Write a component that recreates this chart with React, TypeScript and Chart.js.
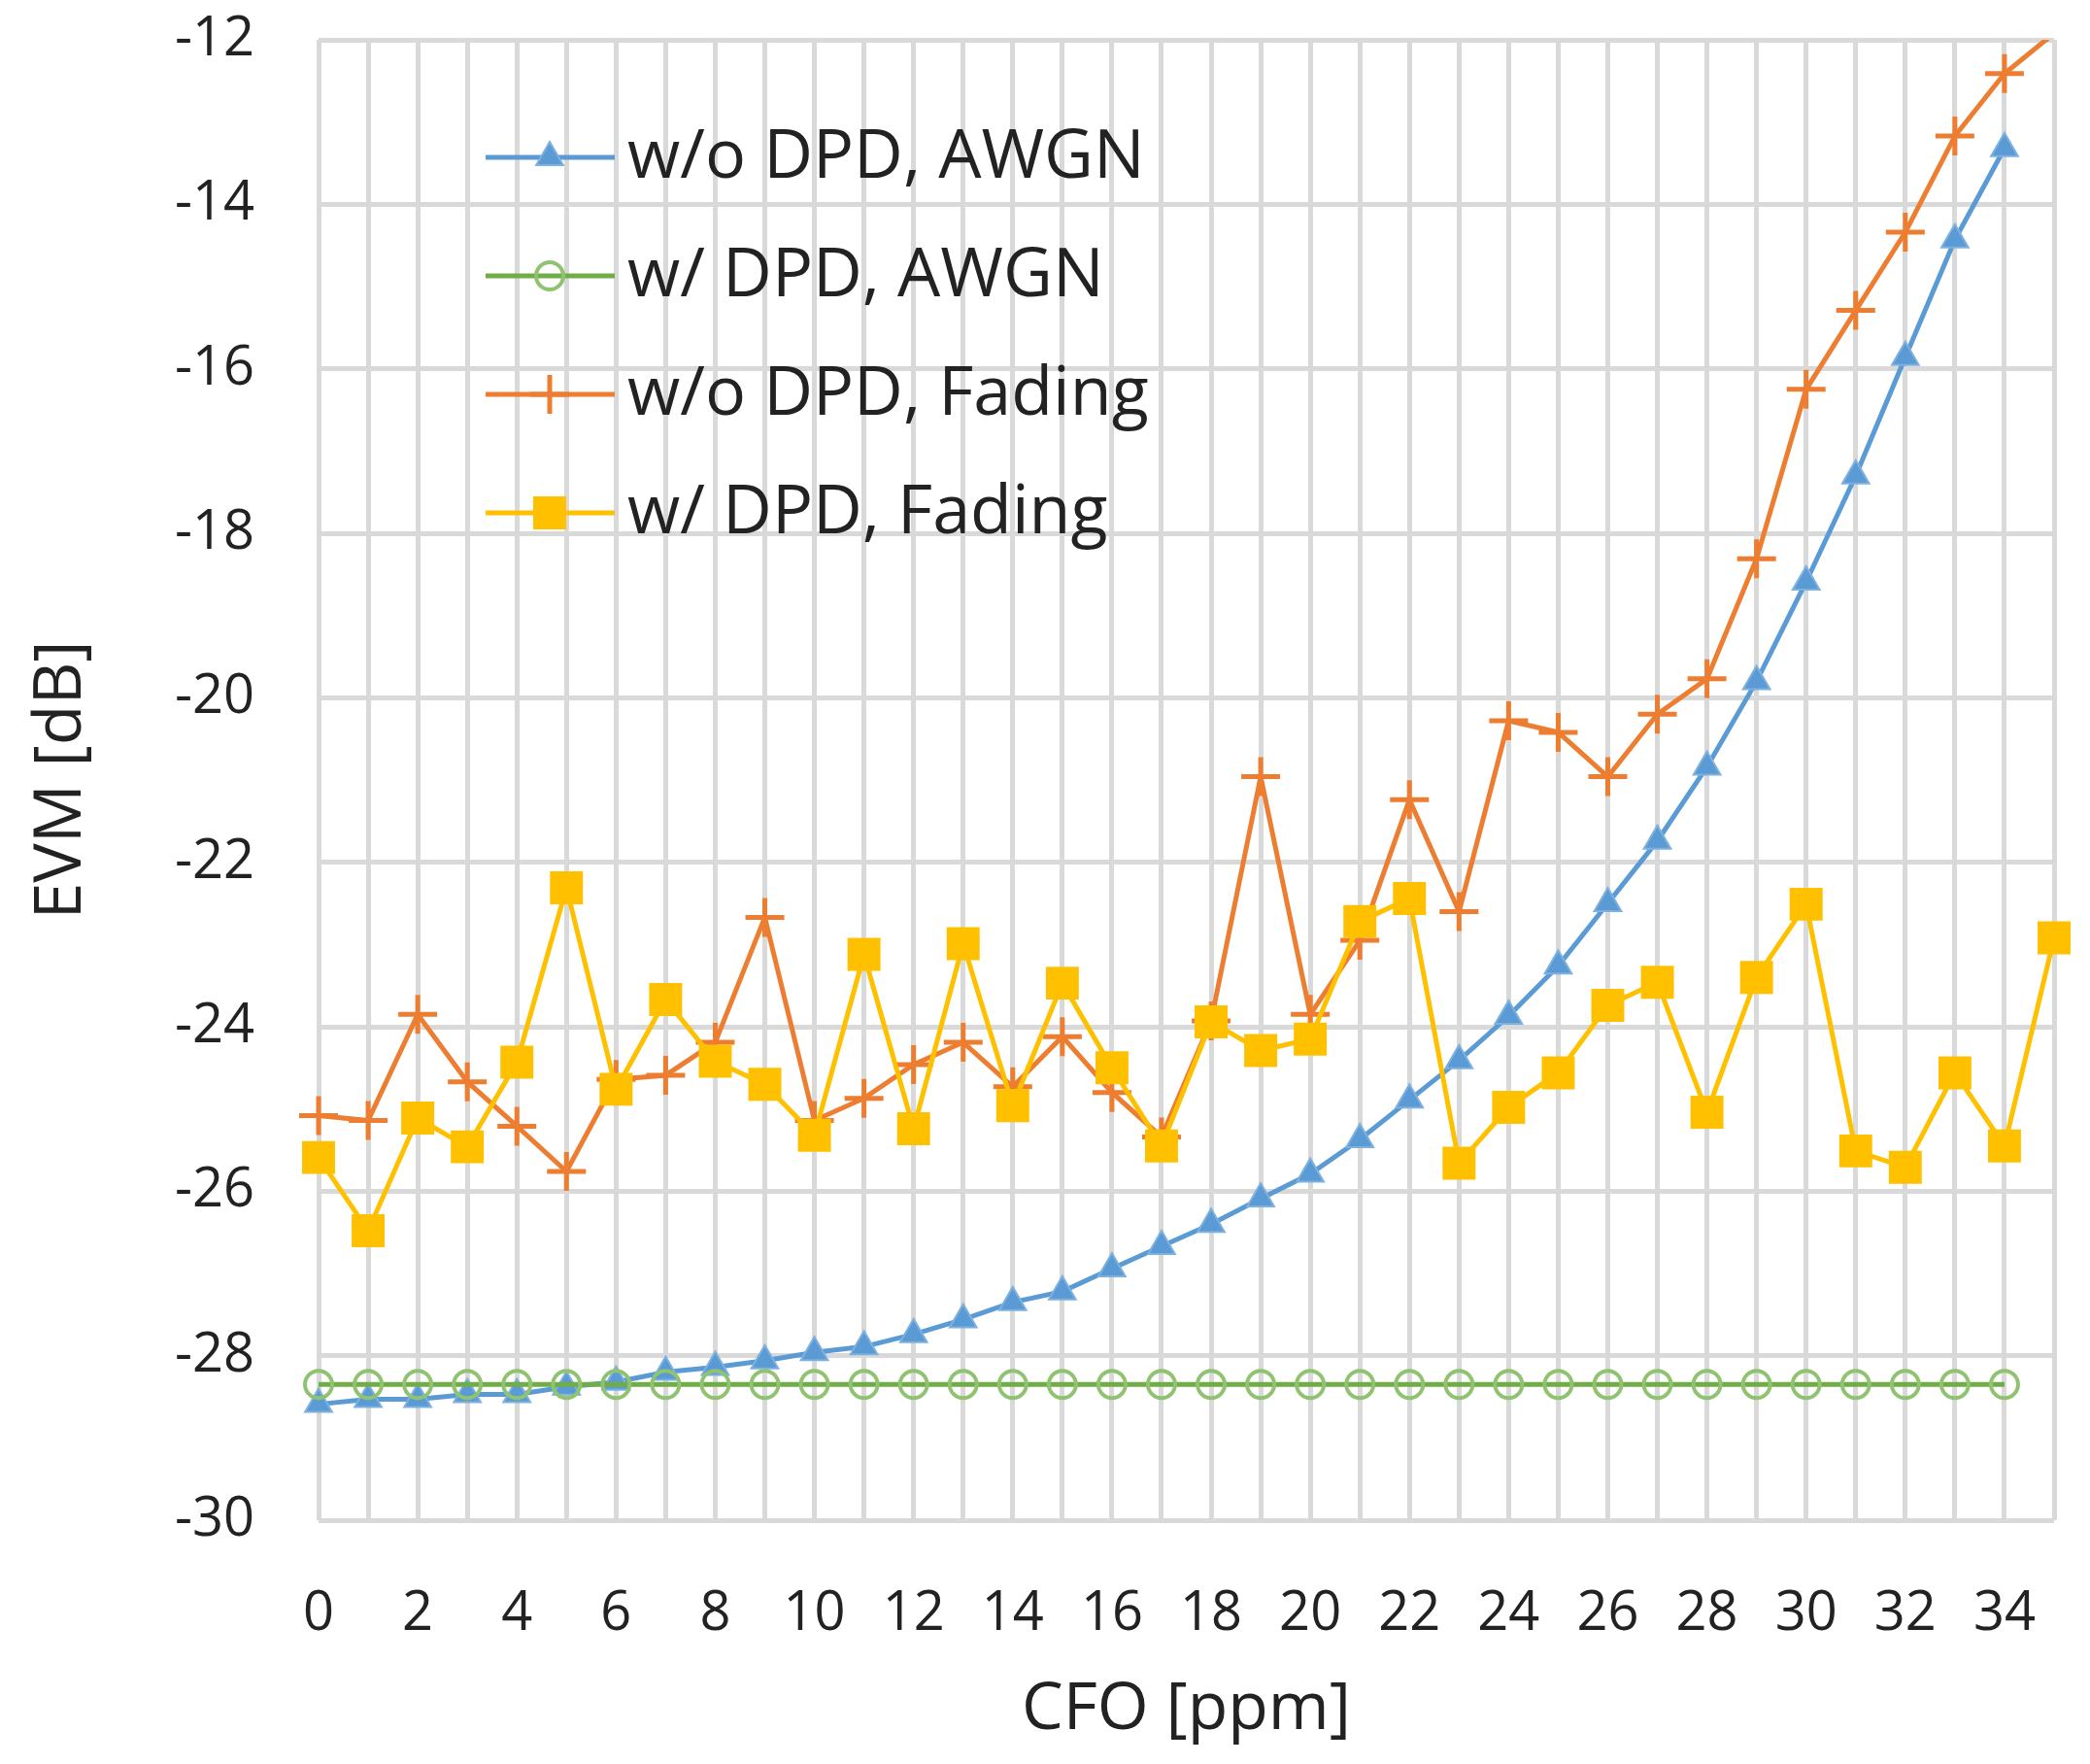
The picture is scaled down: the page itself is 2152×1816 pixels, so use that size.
import React, { useEffect, useRef } from 'react';
import { Chart, registerables } from 'chart.js';

Chart.register(...registerables);

// ---------- data ----------
const cfoPpm = [0, 1, 2, 3, 4, 5, 6, 7, 8, 9, 10, 11, 12, 13, 14, 15, 16, 17, 18, 19, 20, 21, 22, 23, 24, 25, 26, 27, 28, 29, 30, 31, 32, 33, 34, 35];

const evmNoDpdAwgn = [
  -28.59, -28.53, -28.53, -28.47, -28.47, -28.38, -28.32, -28.2, -28.14, -28.06,
  -27.96, -27.89, -27.74, -27.56, -27.35, -27.22, -26.94, -26.67, -26.4, -26.09,
  -25.79, -25.37, -24.89, -24.41, -23.87, -23.26, -22.5, -21.74, -20.84, -19.8,
  -18.59, -17.3, -15.86, -14.43, -13.32,
];

const evmDpdAwgn = [
  -28.35, -28.35, -28.35, -28.35, -28.35, -28.35, -28.35, -28.35, -28.35, -28.35,
  -28.35, -28.35, -28.35, -28.35, -28.35, -28.35, -28.35, -28.35, -28.35, -28.35,
  -28.35, -28.35, -28.35, -28.35, -28.35, -28.35, -28.35, -28.35, -28.35, -28.35,
  -28.35, -28.35, -28.35, -28.35, -28.35,
];

const evmNoDpdFading = [
  -25.08, -25.14, -23.85, -24.67, -25.21, -25.76, -24.64, -24.59, -24.19, -22.67,
  -25.14, -24.87, -24.46, -24.19, -24.73, -24.12, -24.8, -25.34, -23.93, -20.96,
  -23.85, -22.95, -21.24, -22.6, -20.28, -20.42, -20.96, -20.2, -19.77, -18.31,
  -16.25, -15.29, -14.34, -13.17, -12.41, -11.92,
];

const evmDpdFading = [
  -25.59, -26.48, -25.11, -25.46, -24.43, -22.31, -24.76, -23.67, -24.42, -24.7,
  -25.32, -23.12, -25.24, -22.99, -24.96, -23.47, -24.5, -25.45, -23.94, -24.29,
  -24.15, -22.72, -22.44, -25.66, -24.98, -24.56, -23.74, -23.46, -25.04, -23.4,
  -22.51, -25.51, -25.71, -24.56, -25.45, -22.92,
];

const seriesLabels = ['w/o DPD, AWGN', 'w/ DPD, AWGN', 'w/o DPD, Fading', 'w/ DPD, Fading'];
const xTickLabels = ['0', '2', '4', '6', '8', '10', '12', '14', '16', '18', '20', '22', '24', '26', '28', '30', '32', '34'];
const yTickValues = [-30, -28, -26, -24, -22, -20, -18, -16, -14, -12];
const xAxisTitle = 'CFO [ppm]';
const yAxisTitle = 'EVM [dB]';

// ---------- styles ----------
const FONT = "'Open Sans', 'Noto Sans', sans-serif";
const TEXT = '#222222';
const GRID = '#d9d9d9';
const Y_MIN = yTickValues[0];
const Y_MAX = yTickValues[yTickValues.length - 1];

type Marker = {
  style: 'triangle' | 'circle' | 'cross' | 'rect';
  radius: number;
  fill: string;
  stroke: string;
  strokeWidth: number;
};

const seriesStyles: { color: string; width: number; marker: Marker }[] = [
  { color: '#5b9bd5', width: 5, marker: { style: 'triangle', radius: 16, fill: '#5b9bd5', stroke: '#7fb1de', strokeWidth: 2 } },
  { color: '#70ad47', width: 5, marker: { style: 'circle', radius: 14, fill: 'rgba(0,0,0,0)', stroke: '#8fc370', strokeWidth: 4 } },
  { color: '#ed7d31', width: 5, marker: { style: 'cross', radius: 20, fill: '#ed7d31', stroke: '#ed7d31', strokeWidth: 5 } },
  { color: '#ffc000', width: 5, marker: { style: 'rect', radius: 24, fill: '#ffc000', stroke: '#ffc000', strokeWidth: 0 } },
];

const seriesValues = [evmNoDpdAwgn, evmDpdAwgn, evmNoDpdFading, evmDpdFading];

function drawMarker(ctx: CanvasRenderingContext2D, m: Marker, x: number, y: number) {
  const r = m.radius;
  ctx.save();
  ctx.fillStyle = m.fill;
  ctx.strokeStyle = m.stroke;
  ctx.lineWidth = m.strokeWidth;
  ctx.beginPath();
  if (m.style === 'triangle') {
    ctx.moveTo(x, y - r);
    ctx.lineTo(x + r * Math.sin((2 * Math.PI) / 3), y + r / 2);
    ctx.lineTo(x - r * Math.sin((2 * Math.PI) / 3), y + r / 2);
    ctx.closePath();
    ctx.fill();
    if (m.strokeWidth > 0) ctx.stroke();
  } else if (m.style === 'circle') {
    ctx.arc(x, y, r, 0, Math.PI * 2);
    ctx.fill();
    if (m.strokeWidth > 0) ctx.stroke();
  } else if (m.style === 'cross') {
    ctx.moveTo(x - r, y);
    ctx.lineTo(x + r, y);
    ctx.moveTo(x, y - r);
    ctx.lineTo(x, y + r);
    ctx.stroke();
  } else if (m.style === 'rect') {
    const s = r * Math.SQRT1_2;
    ctx.rect(x - s, y - s, 2 * s, 2 * s);
    ctx.fill();
    if (m.strokeWidth > 0) ctx.stroke();
  }
  ctx.restore();
}

const legendPlugin = {
  id: 'excelLegend',
  afterDraw(chart: any) {
    const { ctx, chartArea } = chart;
    ctx.save();
    chart.data.datasets.forEach((ds: any, i: number) => {
      const st = seriesStyles[i];
      const y = chartArea.top + 121 + i * 122;
      const x0 = chartArea.left + 172;
      const x1 = chartArea.left + 305;
      const xm = chartArea.left + 238;
      ctx.strokeStyle = st.color;
      ctx.lineWidth = st.width;
      ctx.beginPath();
      ctx.moveTo(x0, y);
      ctx.lineTo(x1, y);
      ctx.stroke();
      drawMarker(ctx, st.marker, xm, y);
      ctx.fillStyle = TEXT;
      ctx.font = `70px ${FONT}`;
      ctx.textAlign = 'left';
      ctx.textBaseline = 'middle';
      ctx.fillText(ds.label, chartArea.left + 318, y + 1);
    });
    ctx.restore();
  },
};

export default function App() {
  const ref = useRef<HTMLCanvasElement>(null);

  useEffect(() => {
    document.body.style.margin = '0';
    const canvas = ref.current;
    if (!canvas) return;

    const datasets = seriesValues.map((vals, i) => {
      const st = seriesStyles[i];
      const m = st.marker;
      return {
        label: seriesLabels[i],
        data: vals.map((v, k) => ({ x: cfoPpm[k], y: v })),
        borderColor: st.color,
        backgroundColor: st.color,
        borderWidth: st.width,
        pointStyle: m.style,
        pointRadius: (c: any) => (c.parsed && c.parsed.y > Y_MAX ? 0 : m.radius),
        pointHoverRadius: 0,
        pointBackgroundColor: m.fill,
        pointBorderColor: m.stroke,
        pointBorderWidth: m.strokeWidth,
        tension: 0,
        order: seriesValues.length - 1 - i,
        clip: { left: 40, right: 40, top: 0, bottom: 40 },
      };
    });

    const chart = new Chart(canvas, {
      type: 'line',
      data: { datasets },
      plugins: [legendPlugin],
      options: {
        animation: false,
        responsive: false,
        maintainAspectRatio: false,
        events: [],
        layout: { autoPadding: false, padding: { top: 41, right: 37, left: 0, bottom: 0 } },
        plugins: {
          legend: { display: false },
          tooltip: { enabled: false },
          title: { display: false },
        },
        scales: {
          x: {
            type: 'linear',
            min: cfoPpm[0],
            max: cfoPpm[cfoPpm.length - 1],
            afterFit: (s: any) => {
              s.height = 251;
              s.paddingLeft = 0;
              s.paddingRight = 0;
            },
            border: { display: false },
            grid: { color: GRID, lineWidth: 5, drawTicks: false },
            ticks: {
              stepSize: 1,
              autoSkip: false,
              maxRotation: 0,
              padding: 63,
              color: TEXT,
              font: { family: FONT, size: 56 },
              callback: (v: any) => (xTickLabels.includes(String(v)) ? String(v) : ''),
            },
            title: {
              display: true,
              text: xAxisTitle,
              color: TEXT,
              font: { family: FONT, size: 68 },
              padding: { top: 0, bottom: 15 },
            },
          },
          y: {
            type: 'linear',
            min: Y_MIN,
            max: Y_MAX,
            afterFit: (s: any) => {
              s.width = 328;
              s.paddingTop = 0;
              s.paddingBottom = 0;
            },
            border: { display: false },
            grid: { color: GRID, lineWidth: 5, drawTicks: false },
            ticks: {
              stepSize: 2,
              padding: 66,
              color: TEXT,
              font: { family: FONT, size: 56 },
              callback: (v: any) => (yTickValues.includes(Number(v)) ? String(v) : ''),
            },
            title: {
              display: true,
              text: yAxisTitle,
              color: TEXT,
              font: { family: FONT, size: 68 },
              padding: { top: 23, bottom: 0 },
            },
          },
        },
      },
    } as any);

    return () => chart.destroy();
  }, []);

  return (
    <div style={{ width: 2152, height: 1816, position: 'relative', overflow: 'hidden', background: '#fff' }}>
      <canvas ref={ref} width={2152} height={1816} style={{ display: 'block' }} />
    </div>
  );
}
